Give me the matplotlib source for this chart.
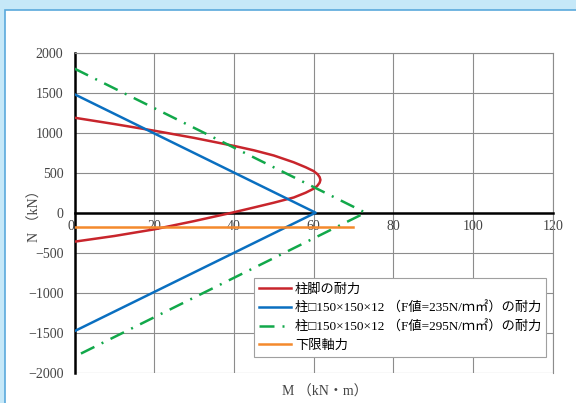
import matplotlib
matplotlib.use("Agg")
import matplotlib.pyplot as plt
from matplotlib.patches import Rectangle

# 柱脚の耐力 (M, N)
base_m = [0, 10, 20, 30, 40, 45, 50, 55, 58, 60, 61.0, 61.5, 61.7,
          61.5, 60.9, 60, 58, 55, 50, 45, 39.5, 30, 20, 10, 0]
base_n = [1187, 1108, 1025, 935, 835, 780, 715, 630, 568, 520, 480, 445, 410,
          375, 335, 300, 250, 190, 125, 65, 0, -105, -208, -291, -362]

# 柱□150×150×12 (F=235)
col235_m = [0, 60.5, 0]
col235_n = [1480, 0, -1480]

# 柱□150×150×12 (F=295)
col295_m = [0, 73, 0]
col295_n = [1800, 0, -1800]

# 下限軸力
lower_m = [0, 70]
lower_n = [-180, -180]

labels = [
    "柱脚の耐力",
    "柱□150×150×12 （F値=235N/ｍ㎡）の耐力",
    "柱□150×150×12 （F値=295N/ｍ㎡）の耐力",
    "下限軸力",
]

fam = ["Liberation Serif", "Noto Sans CJK JP"]
plt.rcParams["font.family"] = fam

fig = plt.figure(figsize=(5.76, 4.03), dpi=100)
fig.patch.set_facecolor("#c6e8f8")
# white panel with blue border (frame of the original page)
fig.patches.append(Rectangle((4.5, -10), 600, 403 - 9.5 + 10, transform=None,
                             facecolor="white", edgecolor="#5aa9dc", linewidth=1.2,
                             zorder=-5))

ax = fig.add_axes([74.6 / 576, 1 - 372.7 / 403, 478.1 / 576, 320 / 403])
ax.set_xlim(0, 120)
ax.set_ylim(-2000, 2000)
ax.set_xticks(range(0, 121, 20))
ax.set_yticks(range(-2000, 2001, 500))
ax.grid(True, color="#8c8c8c", linewidth=0.8, zorder=0)
ax.set_axisbelow(True)

ax.spines["bottom"].set_position(("data", 0))
ax.spines["bottom"].set_color("black")
ax.spines["bottom"].set_linewidth(1.8)
ax.spines["left"].set_color("black")
ax.spines["left"].set_linewidth(1.8)
for s in ["top", "right"]:
    ax.spines[s].set_color("#8c8c8c")
    ax.spines[s].set_linewidth(0.8)

ax.tick_params(axis="both", length=0, labelsize=10, labelcolor="#444444")
ax.tick_params(axis="y", pad=8)
ax.tick_params(axis="x", pad=5)
ax.get_xticklabels()[0].set_horizontalalignment("right")

ax.plot(base_m, base_n, color="#c8252c", lw=1.8, label=labels[0], zorder=3,
        solid_joinstyle="round")
ax.plot(col235_m, col235_n, color="#0a6fc0", lw=1.8, label=labels[1], zorder=3)
ax.plot(col295_m, col295_n, color="#12a84a", lw=1.8, linestyle=(0, (6, 3.2, 0.8, 3.2)),
        label=labels[2], zorder=3)
ax.plot(lower_m, lower_n, color="#f4892c", lw=1.8, label=labels[3], zorder=3)

leg = ax.legend(loc="upper left", bbox_to_anchor=(0.375, 0.295), fontsize=9.5,
                frameon=True, fancybox=False, edgecolor="#a0a0a0", framealpha=1,
                handlelength=2.4, labelspacing=0.45, borderpad=0.4, handletextpad=0.3,
                borderaxespad=0)
leg.get_frame().set_linewidth(0.8)

fig.text(35 / 576, 1 - 213 / 403, "N （kN）", rotation=90, ha="center", va="center",
         fontsize=10, color="#444444")
fig.text(325 / 576, 1 - 392 / 403, "M （kN・m）", ha="center", va="center",
         fontsize=10, color="#444444")

fig.savefig("out.png", dpi=100)
